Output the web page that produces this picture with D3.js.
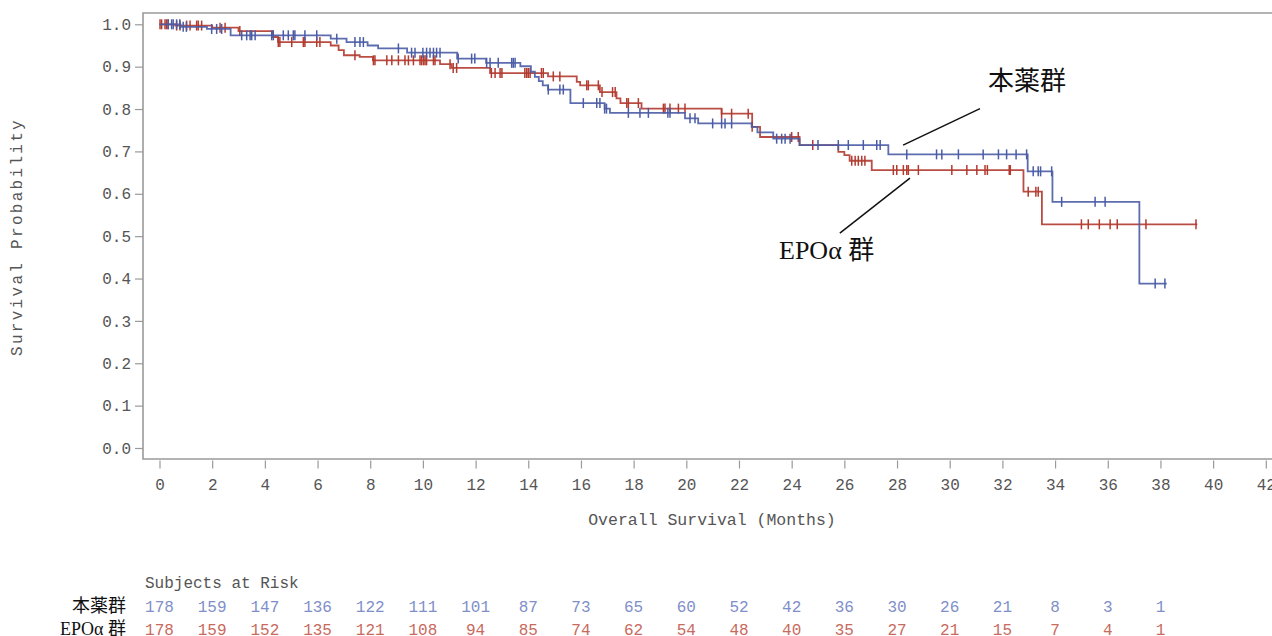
<!DOCTYPE html>
<html><head><meta charset="utf-8">
<script src="https://cdn.jsdelivr.net/npm/d3@7"></script>
<style>
html,body{margin:0;padding:0;background:#fff;}
svg{display:block;}
</style></head>
<body>
<script>
// ---------- data ----------
const groupNames = ["本薬群", "EPOα 群"];
const xTicks = d3.range(0, 43, 2);
const yTicks = d3.range(0, 11).map(d => d / 10);
const riskTimes = d3.range(0, 40, 2);
const riskA = [178,159,147,136,122,111,101,87,73,65,60,52,42,36,30,26,21,8,3,1];
const riskB = [178,159,152,135,121,108,94,85,74,62,54,48,40,35,27,21,15,7,4,1];

// 本薬群 (blue) step function
const stepTimesA = [0,0.8,1.8,2.7,6.5,7.1,7.9,8.3,9.4,11.3,12.4,13.7,14.1,14.25,14.4,14.55,14.75,15.6,16.9,17.1,19.95,20.45,22.48,22.7,23.3,24.3,27.67,32.96,33.9,37.2];
const stepSurvA  = [1.0,0.994,0.989,0.974,0.966,0.958,0.950,0.943,0.933,0.919,0.909,0.901,0.888,0.876,0.866,0.856,0.846,0.814,0.801,0.791,0.778,0.766,0.758,0.745,0.730,0.715,0.693,0.653,0.581,0.388];
const endA = 38.24;
const censorA = [0.33,0.46,0.52,0.65,0.77,0.9,1.02,1.98,2.17,2.36,3.12,3.31,3.44,3.5,3.63,4.26,4.32,4.7,4.89,5.08,5.14,5.52,5.97,6.73,7.42,7.61,7.74,9.07,9.57,9.7,10.0,10.14,10.27,10.4,10.52,10.65,11.34,11.85,11.97,12.42,12.55,12.86,13.37,13.43,13.5,14.76,15.2,15.33,16.09,16.6,16.72,16.9,16.97,17.8,18.24,18.56,19.3,19.38,20.14,20.33,21.0,21.34,21.47,21.72,23.43,23.62,23.75,23.94,25.0,25.77,26.15,26.72,27.23,27.36,28.37,29.5,29.7,30.33,31.27,31.85,32.16,32.52,32.92,33.17,33.36,33.45,33.87,34.25,35.52,35.9,37.8,38.17];

// EPOα 群 (red) step function
const stepTimesB = [0,0.6,2.0,3.0,4.3,4.5,6.5,6.8,7.0,7.6,8.1,10.65,11.09,12.55,14.75,15.84,15.97,16.72,17.35,17.5,18.3,21.34,22.5,22.8,24.3,25.77,26.0,26.2,27.04,32.8,33.5];
const stepSurvB  = [1.0,0.997,0.992,0.984,0.97,0.958,0.95,0.939,0.927,0.923,0.915,0.906,0.897,0.885,0.877,0.864,0.856,0.84,0.825,0.814,0.801,0.789,0.758,0.734,0.715,0.699,0.691,0.678,0.656,0.605,0.528];
const endB = 39.4;
const censorB = [0.02,0.08,0.21,0.27,0.33,0.65,0.78,1.03,1.16,1.41,1.47,1.6,2.3,2.49,3.05,4.51,4.57,5.02,5.46,5.52,5.97,6.09,7.42,8.12,8.18,8.63,8.82,9.07,9.32,9.45,9.64,9.89,9.95,10.02,10.08,10.14,10.4,10.46,11.03,11.15,11.28,12.6,12.74,12.93,13.0,13.87,13.94,14.0,14.07,14.5,14.57,14.95,15.2,16.22,16.28,16.66,16.8,17.2,17.3,17.74,17.8,18.18,19.13,19.19,19.38,19.7,19.95,21.34,21.72,22.35,22.5,24.0,24.25,24.8,26.28,26.41,26.53,26.66,26.78,27.86,27.99,28.24,28.37,28.43,28.81,30.08,30.65,31.03,31.34,31.43,32.26,32.3,32.98,33.27,33.36,35.0,35.26,35.68,36.09,36.36,37.45,39.35];

// annotation anchor points (data coordinates)
const labelA = {t: 31.45, s: 0.845, lineFrom: [28.23, 0.715], lineTo: [31.15, 0.801]};
const labelB = {t: 23.52, s: 0.447, lineFrom: [25.83, 0.507], lineTo: [28.49, 0.637]};

// ---------- chart ----------
const W = 1272, H = 636;
const colA = "#4a5ca6", colB = "#b23a2f";
const colAtxt = "#7f8fc8", colBtxt = "#c86a5e";
const axisCol = "#9a9a9a", txtCol = "#555";
const mono = "'Liberation Mono', 'DejaVu Sans Mono', monospace";
const cjk = "'Liberation Serif', 'Noto Sans CJK JP', serif";

const svg = d3.select("body").append("svg").attr("width", W).attr("height", H);

const x = d3.scaleLinear().domain([0, 42]).range([159.5, 1265.8]);
const y = d3.scaleLinear().domain([0, 1]).range([448, 24.3]);

const frameL = 143, frameT = 13, frameB = 459, frameR = 1280;

// frame
svg.append("path")
  .attr("d", `M${frameR},${frameT}H${frameL}V${frameB}H${frameR}`)
  .attr("fill", "none").attr("stroke", axisCol).attr("stroke-width", 1.6);

// y axis ticks and labels
const yAxis = d3.axisLeft(y).tickValues(yTicks).tickFormat(d3.format(".1f")).tickSize(8).tickSizeOuter(0);
const gy = svg.append("g").attr("transform", `translate(${frameL},0)`).call(yAxis);
gy.select(".domain").remove();
gy.selectAll(".tick line").attr("stroke", axisCol).attr("stroke-width", 1.2);
gy.selectAll(".tick text").attr("font-family", mono).attr("font-size", 16).attr("fill", txtCol).attr("x", -12);

// x axis
const xAxis = d3.axisBottom(x).tickValues(xTicks).tickFormat(d3.format("d")).tickSize(8).tickSizeOuter(0);
const gx = svg.append("g").attr("transform", `translate(0,${frameB + 1.5})`).call(xAxis);
gx.select(".domain").remove();
gx.selectAll(".tick line").attr("stroke", axisCol).attr("stroke-width", 1.2);
gx.selectAll(".tick text").attr("font-family", mono).attr("font-size", 16).attr("fill", txtCol).attr("y", 18);

// axis titles
svg.append("text").attr("x", 712).attr("y", 525).attr("text-anchor", "middle")
  .attr("font-family", mono).attr("font-size", 16.5).attr("fill", txtCol)
  .text("Overall Survival (Months)");
svg.append("text").attr("transform", `translate(22,237) rotate(-90)`).attr("text-anchor", "middle")
  .attr("font-family", mono).attr("font-size", 16).attr("letter-spacing", 2.3).attr("fill", txtCol)
  .text("Survival Probability");

// KM curves
function stepPath(times, surv, end) {
  const pts = times.map((t, i) => [t, surv[i]]);
  pts.push([end, surv[surv.length - 1]]);
  const line = d3.line().x(d => x(d[0])).y(d => y(d[1])).curve(d3.curveStepAfter);
  return line(pts);
}
function survAt(times, surv, t) {
  const i = d3.bisectRight(times, t) - 1;
  return surv[Math.max(0, i)];
}
function drawArm(times, surv, end, censors, col) {
  const g = svg.append("g");
  g.append("path").attr("d", stepPath(times, surv, end))
    .attr("fill", "none").attr("stroke", col).attr("stroke-width", 1.8).attr("stroke-opacity", 0.9);
  g.selectAll("line.c").data(censors).enter().append("line")
    .attr("x1", d => x(d)).attr("x2", d => x(d))
    .attr("y1", d => y(survAt(times, surv, d)) - 5)
    .attr("y2", d => y(survAt(times, surv, d)) + 5)
    .attr("stroke", col).attr("stroke-width", 1.5);
}
drawArm(stepTimesB, stepSurvB, endB, censorB, colB);
drawArm(stepTimesA, stepSurvA, endA, censorA, colA);

// annotations
[labelA, labelB].forEach((lb, i) => {
  svg.append("line")
    .attr("x1", x(lb.lineFrom[0])).attr("y1", y(lb.lineFrom[1]))
    .attr("x2", x(lb.lineTo[0])).attr("y2", y(lb.lineTo[1]))
    .attr("stroke", "#111").attr("stroke-width", 1.5);
  svg.append("text").attr("x", x(lb.t)).attr("y", y(lb.s))
    .attr("font-family", cjk).attr("font-size", 26).attr("fill", "#111")
    .text(groupNames[i]);
});

// risk table
svg.append("text").attr("x", 145).attr("y", 588)
  .attr("font-family", mono).attr("font-size", 16).attr("fill", txtCol)
  .text("Subjects at Risk");
const rows = [{lab: groupNames[0], vals: riskA, col: colAtxt, y: 612},
              {lab: groupNames[1], vals: riskB, col: colBtxt, y: 635}];
rows.forEach(r => {
  svg.append("text").attr("x", 126).attr("y", r.y).attr("text-anchor", "end")
    .attr("font-family", cjk).attr("font-size", 18).attr("fill", "#111").text(r.lab);
  svg.append("g").selectAll("text").data(riskTimes).enter().append("text")
    .attr("x", d => x(d)).attr("y", r.y).attr("text-anchor", "middle")
    .attr("font-family", mono).attr("font-size", 16).attr("fill", r.col)
    .text((d, i) => r.vals[i]);
});
</script>
</body></html>
